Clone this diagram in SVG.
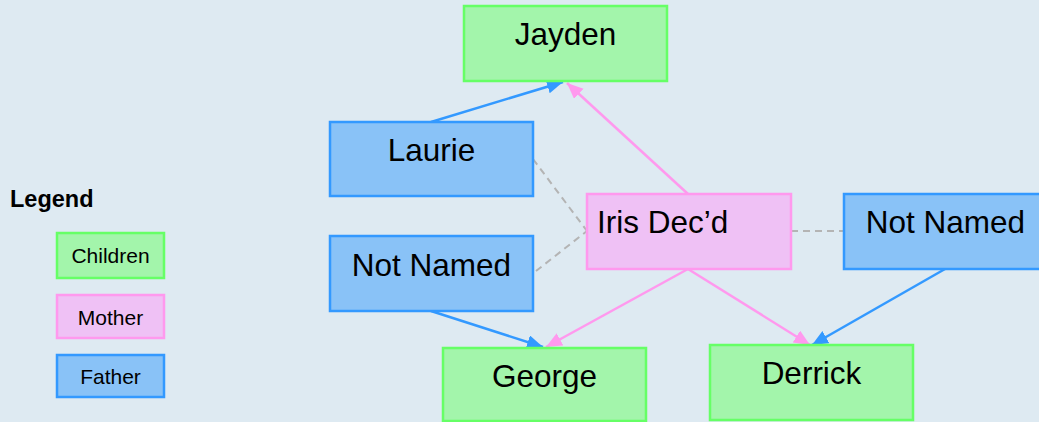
<svg xmlns="http://www.w3.org/2000/svg" width="1039" height="422" viewBox="0 0 1039 422">
  <style>
    .child { fill: #a3f5ab; stroke: #66ff66; stroke-width: 2.5; }
    .mother { fill: #efc1f5; stroke: #ff99ee; stroke-width: 2.5; }
    .father { fill: #89c2f7; stroke: #3399ff; stroke-width: 2.5; }
    .lbl { font-family: "Liberation Sans", Arial, sans-serif; font-size: 31.5px; fill: #000; }
    .leg { font-family: "Liberation Sans", Arial, sans-serif; font-size: 21px; fill: #000; text-anchor: middle; }
    .mid { text-anchor: middle; }
    .eb { fill: none; stroke: #3399ff; stroke-width: 2.5; }
    .ep { fill: none; stroke: #ff99ee; stroke-width: 2.5; }
    .ed { fill: none; stroke: #b4b4b4; stroke-width: 2; stroke-dasharray: 7 5; }
  </style>
  <defs>
    <marker id="ab" markerUnits="userSpaceOnUse" markerWidth="18" markerHeight="16" refX="16" refY="7" orient="auto">
      <path d="M0,0 L16,7 L0,14 Z" fill="#3399ff"/>
    </marker>
    <marker id="ap" markerUnits="userSpaceOnUse" markerWidth="18" markerHeight="16" refX="16" refY="7" orient="auto">
      <path d="M0,0 L16,7 L0,14 Z" fill="#ff99ee"/>
    </marker>
  </defs>
  <rect x="0" y="0" width="1039" height="422" fill="#deeaf2"/>

  <g id="connectors">
    <path class="eb" d="M431,122 L563,82" marker-end="url(#ab)"/>
    <path class="ep" d="M688,194 L567,83" marker-end="url(#ap)"/>
    <path class="eb" d="M431,311 L543,347" marker-end="url(#ab)"/>
    <path class="ep" d="M688,269 L546,347" marker-end="url(#ap)"/>
    <path class="ep" d="M688,269 L810,345" marker-end="url(#ap)"/>
    <path class="eb" d="M945,269 L812,345" marker-end="url(#ab)"/>
    <path class="ed" d="M533,159 L587,231"/>
    <path class="ed" d="M536,271 L587,231"/>
    <path class="ed" d="M791,231 L844,231"/>
  </g>

  <g id="jayden">
    <rect class="child" x="464" y="6" width="203" height="75"/>
    <text class="lbl mid" x="565.5" y="45">Jayden</text>
  </g>
  <g id="laurie">
    <rect class="father" x="330" y="122" width="203" height="74"/>
    <text class="lbl mid" x="431.5" y="161">Laurie</text>
  </g>
  <g id="not-named-left">
    <rect class="father" x="330" y="236" width="203" height="75"/>
    <text class="lbl mid" x="431.5" y="276">Not Named</text>
  </g>
  <g id="iris">
    <rect class="mother" x="587" y="194" width="204" height="75"/>
    <text class="lbl" x="597" y="233">Iris Dec’d</text>
  </g>
  <g id="not-named-right">
    <rect class="father" x="844" y="194" width="203" height="75"/>
    <text class="lbl mid" x="945.5" y="233">Not Named</text>
  </g>
  <g id="george">
    <rect class="child" x="443" y="348" width="203" height="73"/>
    <text class="lbl mid" x="544.5" y="387">George</text>
  </g>
  <g id="derrick">
    <rect class="child" x="710" y="345" width="203" height="75"/>
    <text class="lbl mid" x="811.5" y="384">Derrick</text>
  </g>

  <g id="legend">
    <text x="10" y="206.5" font-family="Liberation Sans, Arial, sans-serif" font-size="23.5" font-weight="bold" fill="#000">Legend</text>
    <rect class="child" x="57" y="233" width="107" height="45"/>
    <text class="leg" x="110.5" y="263">Children</text>
    <rect class="mother" x="57" y="295" width="107" height="43"/>
    <text class="leg" x="110.5" y="325">Mother</text>
    <rect class="father" x="57" y="355" width="107" height="42"/>
    <text class="leg" x="110.5" y="383.5">Father</text>
  </g>
</svg>
